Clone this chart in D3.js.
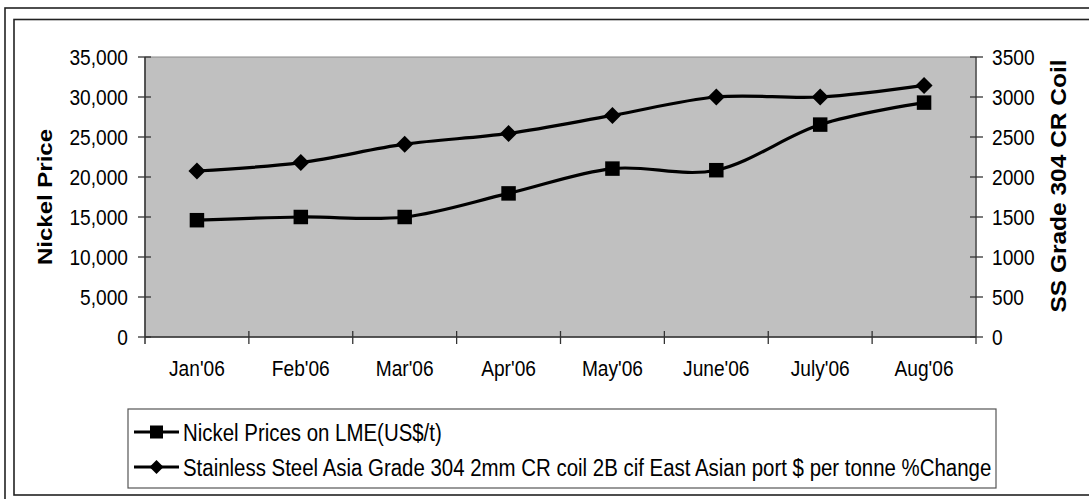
<!DOCTYPE html>
<html>
<head>
<meta charset="utf-8">
<script src="https://cdn.jsdelivr.net/npm/d3@7"></script>
<style>
  html, body { margin: 0; padding: 0; background: #fff; }
  svg { display: block; font-family: "Liberation Sans", Arial, sans-serif; }
</style>
</head>
<body>
<svg id="chart" width="1089" height="499"></svg>
<script>
// Monthly categories and the two series
const months = ["Jan'06", "Feb'06", "Mar'06", "Apr'06", "May'06", "June'06", "July'06", "Aug'06"];
const nickelPrices = [14600, 15000, 15000, 17950, 21050, 20850, 26550, 29300];
const stainlessPrices = [2075, 2180, 2410, 2545, 2770, 3000, 3000, 3145];

const leftTicks = [0, 5000, 10000, 15000, 20000, 25000, 30000, 35000];
const rightTicks = [0, 500, 1000, 1500, 2000, 2500, 3000, 3500];

const seriesNames = [
  "Nickel Prices on LME(US$/t)",
  "Stainless Steel Asia Grade 304 2mm CR coil 2B cif East Asian port $ per tonne %Change"
];
const leftTitle = "Nickel Price";
const rightTitle = "SS Grade 304 CR Coil";

const svg = d3.select("#chart");
const SX = 0.87; // horizontal text compression

// Outer and inner frames
svg.append("rect").attr("x", 5).attr("y", 8).attr("width", 1100).attr("height", 500)
  .attr("fill", "none").attr("stroke", "#222").attr("stroke-width", 1.6);
svg.append("rect").attr("x", 14).attr("y", 19.5).attr("width", 1090).attr("height", 475.5)
  .attr("fill", "none").attr("stroke", "#222").attr("stroke-width", 1.6);

const plot = { left: 145, right: 976, top: 57, bottom: 337 };

const x = d3.scaleBand().domain(months).range([plot.left, plot.right]);
const yL = d3.scaleLinear().domain([0, 35000]).range([plot.bottom, plot.top]);
const yR = d3.scaleLinear().domain([0, 3500]).range([plot.bottom, plot.top]);

// Plot area background
svg.append("rect")
  .attr("x", plot.left).attr("y", plot.top)
  .attr("width", plot.right - plot.left).attr("height", plot.bottom - plot.top)
  .attr("fill", "#c0c0c0").attr("stroke", "#8a8a8a").attr("stroke-width", 1);

function squeezedText(g, tx, ty, str, opts) {
  const sx = opts.sx || SX;
  const t = g.append("text")
    .attr("transform", `translate(${tx},${ty}) scale(${sx},1)` + (opts.rotate ? ` rotate(${opts.rotate})` : ""))
    .attr("font-size", opts.size)
    .attr("font-weight", opts.weight || "normal")
    .attr("text-anchor", opts.anchor || "start")
    .attr("dominant-baseline", "central")
    .attr("fill", "#000")
    .text(str);
  return t;
}

// Left axis
const fmt = d3.format(",");
const axisColor = "#333";
const gL = svg.append("g");
gL.append("line").attr("x1", plot.left).attr("x2", plot.left)
  .attr("y1", plot.top).attr("y2", plot.bottom + 7).attr("stroke", axisColor).attr("stroke-width", 1.5);
leftTicks.forEach(v => {
  gL.append("line").attr("x1", plot.left - 7).attr("x2", plot.left + 6)
    .attr("y1", yL(v)).attr("y2", yL(v)).attr("stroke", axisColor).attr("stroke-width", 1.3);
  squeezedText(gL, 128, yL(v), fmt(v), { size: 22, anchor: "end" });
});

// Right axis
const gR = svg.append("g");
gR.append("line").attr("x1", plot.right).attr("x2", plot.right)
  .attr("y1", plot.top).attr("y2", plot.bottom + 7).attr("stroke", "#555").attr("stroke-width", 1.5);
rightTicks.forEach(v => {
  gR.append("line").attr("x1", plot.right - 6).attr("x2", plot.right + 7)
    .attr("y1", yR(v)).attr("y2", yR(v)).attr("stroke", axisColor).attr("stroke-width", 1.3);
  squeezedText(gR, 992, yR(v), String(v), { size: 22, anchor: "start" });
});

// Category axis
const gX = svg.append("g");
gX.append("line").attr("x1", plot.left).attr("x2", plot.right)
  .attr("y1", plot.bottom).attr("y2", plot.bottom).attr("stroke", axisColor).attr("stroke-width", 1.5);
months.forEach((m, i) => {
  const bx = x(m);
  if (i > 0) {
    gX.append("line").attr("x1", bx).attr("x2", bx)
      .attr("y1", plot.bottom - 6).attr("y2", plot.bottom + 7).attr("stroke", axisColor).attr("stroke-width", 1.3);
  }
  squeezedText(gX, bx + x.bandwidth() / 2, 368, m, { size: 22, anchor: "middle" });
});

// Axis titles
squeezedText(svg, 45, 197, leftTitle, { size: 24, weight: "bold", anchor: "middle", rotate: -90 });
squeezedText(svg, 1059, 186, rightTitle, { size: 24.5, weight: "bold", anchor: "middle", rotate: -90 });

// Series lines
const cx = m => x(m) + x.bandwidth() / 2;
const lineL = d3.line().x((d, i) => cx(months[i])).y(d => yL(d)).curve(d3.curveCatmullRom.alpha(0));
const lineR = d3.line().x((d, i) => cx(months[i])).y(d => yR(d)).curve(d3.curveCatmullRom.alpha(0));

svg.append("path").datum(stainlessPrices).attr("d", lineR)
  .attr("fill", "none").attr("stroke", "#000").attr("stroke-width", 3.2);
svg.append("path").datum(nickelPrices).attr("d", lineL)
  .attr("fill", "none").attr("stroke", "#000").attr("stroke-width", 3.2);

const squareSym = d3.symbol().type(d3.symbolSquare).size(210);
const diamondPath = s => `M0,${-s}L${s},0L0,${s}L${-s},0Z`;

svg.append("g").selectAll("path").data(nickelPrices).join("path")
  .attr("transform", (d, i) => `translate(${cx(months[i])},${yL(d)})`)
  .attr("d", squareSym).attr("fill", "#000");
svg.append("g").selectAll("path").data(stainlessPrices).join("path")
  .attr("transform", (d, i) => `translate(${cx(months[i])},${yR(d)})`)
  .attr("d", diamondPath(8.5)).attr("fill", "#000");

// Legend
const lg = svg.append("g");
lg.append("rect").attr("x", 128).attr("y", 409).attr("width", 868).attr("height", 79)
  .attr("fill", "#fff").attr("stroke", "#555").attr("stroke-width", 1.2);
const rows = [432, 467];
seriesNames.forEach((name, i) => {
  const yy = rows[i];
  lg.append("line").attr("x1", 134).attr("x2", 179).attr("y1", yy).attr("y2", yy)
    .attr("stroke", "#000").attr("stroke-width", 3);
  if (i === 0) {
    lg.append("rect").attr("x", 150).attr("y", yy - 6.5).attr("width", 13).attr("height", 13).attr("fill", "#000");
  } else {
    lg.append("path").attr("transform", `translate(156.5,${yy})`).attr("d", diamondPath(7)).attr("fill", "#000");
  }
  squeezedText(lg, 183, yy + 1, name, { size: 23, anchor: "start", sx: 0.888 });
});
</script>
</body>
</html>
